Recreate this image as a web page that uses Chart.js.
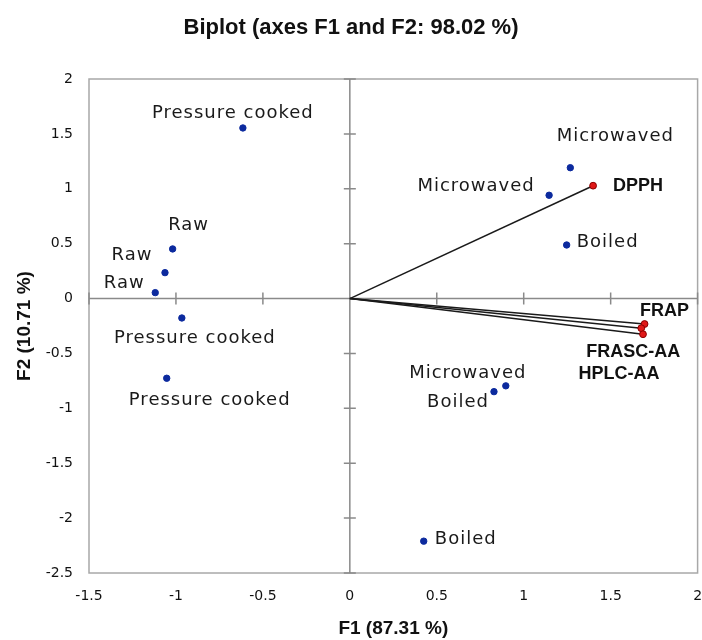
<!DOCTYPE html>
<html>
<head>
<meta charset="utf-8">
<script src="https://cdn.jsdelivr.net/npm/chart.js@4.4.1/dist/chart.umd.min.js"></script>
<style>
  html, body { margin: 0; padding: 0; background: #ffffff; }
  #wrap { width: 702px; height: 640px; position: relative; }
</style>
</head>
<body>
<div id="wrap"><canvas id="c" width="702" height="640"></canvas></div>
<script>
// ---- data ----
const obsLabels = ['Pressure cooked', 'Raw', 'Raw', 'Raw', 'Pressure cooked', 'Pressure cooked',
                   'Microwaved', 'Microwaved', 'Boiled', 'Microwaved', 'Boiled', 'Boiled'];
const obsF1 = [-0.615, -1.019, -1.063, -1.119, -0.966, -1.053, 1.268, 1.146, 1.247, 0.897, 0.829, 0.425];
const obsF2 = [1.554, 0.452, 0.236, 0.054, -0.177, -0.726, 1.192, 0.941, 0.488, -0.795, -0.848, -2.210];

const varLabels = ['DPPH', 'FRAP', 'FRASC-AA', 'HPLC-AA'];
const varF1 = [1.399, 1.695, 1.676, 1.686];
const varF2 = [1.028, -0.232, -0.270, -0.325];

const xTicks = [-1.5, -1, -0.5, 0, 0.5, 1, 1.5, 2];
const yTicks = [-2.5, -2, -1.5, -1, -0.5, 0, 0.5, 1, 1.5, 2];

const chartTitle = 'Biplot (axes F1 and F2: 98.02 %)';
const xTitle = 'F1 (87.31 %)';
const yTitle = 'F2 (10.71 %)';

// ---- label placement (style only: pixel offsets of label centre from its point) ----
const obsLabelOffsets = [[-10, -15], [16, -24], [-33, -17], [-31, -9], [13, 20], [43, 22],
                         [45, -31], [-73, -9], [41, -3], [-38, -13], [-36, 11], [42, -2]];
const varLabelOffsets = [[45, 0], [20, -13], [-8, 24], [-24, 40]];

// ---- build datasets ----
const obsPoints = obsF1.map((x, i) => ({ x: x, y: obsF2[i] }));
const varPoints = varF1.map((x, i) => ({ x: x, y: varF2[i] }));
const vectorSets = varF1.map((x, i) => ({
  label: varLabels[i] + ' vector',
  data: [{ x: 0, y: 0 }, { x: x, y: varF2[i] }],
  showLine: true,
  borderColor: '#1a1a1a',
  borderWidth: 1.5,
  pointRadius: 0,
  fill: false
}));

const frame = {
  id: 'frame',
  beforeDatasetsDraw(chart) {
    const { ctx, chartArea: a, scales: { x, y } } = chart;
    ctx.save();
    ctx.strokeStyle = '#a8a8a8';
    ctx.lineWidth = 1.5;
    ctx.strokeRect(a.left, a.top, a.right - a.left, a.bottom - a.top);
    const x0 = x.getPixelForValue(0), y0 = y.getPixelForValue(0);
    ctx.strokeStyle = '#8a8a8a';
    ctx.lineWidth = 1.5;
    ctx.beginPath();
    ctx.moveTo(x0, a.top); ctx.lineTo(x0, a.bottom);
    ctx.moveTo(a.left, y0); ctx.lineTo(a.right, y0);
    yTicks.forEach(v => { const p = y.getPixelForValue(v); ctx.moveTo(x0 - 6, p); ctx.lineTo(x0 + 6, p); });
    xTicks.forEach(v => { const p = x.getPixelForValue(v); ctx.moveTo(p, y0 - 6); ctx.lineTo(p, y0 + 6); });
    ctx.stroke();
    ctx.restore();
  }
};

const pointLabels = {
  id: 'pointLabels',
  afterDatasetsDraw(chart) {
    const ctx = chart.ctx;
    ctx.save();
    ctx.textAlign = 'center';
    ctx.textBaseline = 'middle';
    const om = chart.getDatasetMeta(0);
    ctx.font = '18px "DejaVu Sans"';
    try { ctx.letterSpacing = '1px'; } catch (e) {}
    ctx.fillStyle = '#1a1a1a';
    om.data.forEach((el, i) => {
      ctx.fillText(obsLabels[i], el.x + obsLabelOffsets[i][0], el.y + obsLabelOffsets[i][1]);
    });
    try { ctx.letterSpacing = '0px'; } catch (e) {}
    const vm = chart.getDatasetMeta(1);
    ctx.font = 'bold 18px "Liberation Sans"';
    ctx.fillStyle = '#111111';
    vm.data.forEach((el, i) => {
      ctx.fillText(varLabels[i], el.x + varLabelOffsets[i][0], el.y + varLabelOffsets[i][1]);
    });
    ctx.restore();
  }
};

const tickText = v => String(v);

new Chart(document.getElementById('c'), {
  type: 'scatter',
  data: {
    datasets: [
      { label: 'Observations', data: obsPoints, backgroundColor: '#0c2a9e', borderColor: '#0c2a9e',
        pointRadius: 3.2, pointHoverRadius: 3.2 },
      { label: 'Variables', data: varPoints, backgroundColor: '#e01818', borderColor: '#8a0000',
        borderWidth: 1, pointRadius: 3.4, pointHoverRadius: 3.4 },
      ...vectorSets
    ]
  },
  options: {
    responsive: false,
    animation: false,
    events: [],
    layout: { padding: 0 },
    plugins: {
      legend: { display: false },
      tooltip: { enabled: false },
      title: {
        display: true,
        text: chartTitle,
        color: '#111111',
        font: { family: '"Liberation Sans"', size: 22, weight: 'bold', lineHeight: 1.2 },
        padding: { top: 14.8, bottom: 37.8 }
      }
    },
    scales: {
      x: {
        type: 'linear',
        min: -1.5, max: 2,
        afterBuildTicks: s => { s.ticks = xTicks.map(v => ({ value: v })); },
        afterFit: s => { s.height = 67; s.paddingLeft = 0; s.paddingRight = 4; },
        grid: { display: false, drawTicks: false },
        border: { display: false },
        ticks: { color: '#111111', padding: 15, maxRotation: 0, autoSkip: false, callback: tickText,
                 font: { family: '"DejaVu Sans"', size: 14 } },
        title: { display: true, text: xTitle, color: '#111111', padding: { top: 0, bottom: 0 },
                 font: { family: '"Liberation Sans"', size: 19, weight: 'bold', lineHeight: 1.2 } }
      },
      y: {
        type: 'linear',
        min: -2.5, max: 2,
        afterBuildTicks: s => { s.ticks = yTicks.map(v => ({ value: v })); },
        afterFit: s => { s.width = 89; s.paddingTop = 0; s.paddingBottom = 0; },
        grid: { display: false, drawTicks: false },
        border: { display: false },
        ticks: { color: '#111111', padding: 16, autoSkip: false, callback: tickText,
                 font: { family: '"DejaVu Sans"', size: 14 } },
        title: { display: true, text: yTitle, color: '#111111', padding: { top: 13.6, bottom: 0 },
                 font: { family: '"Liberation Sans"', size: 19, weight: 'bold', lineHeight: 1.2 } }
      }
    }
  },
  plugins: [frame, pointLabels]
});
</script>
</body>
</html>
